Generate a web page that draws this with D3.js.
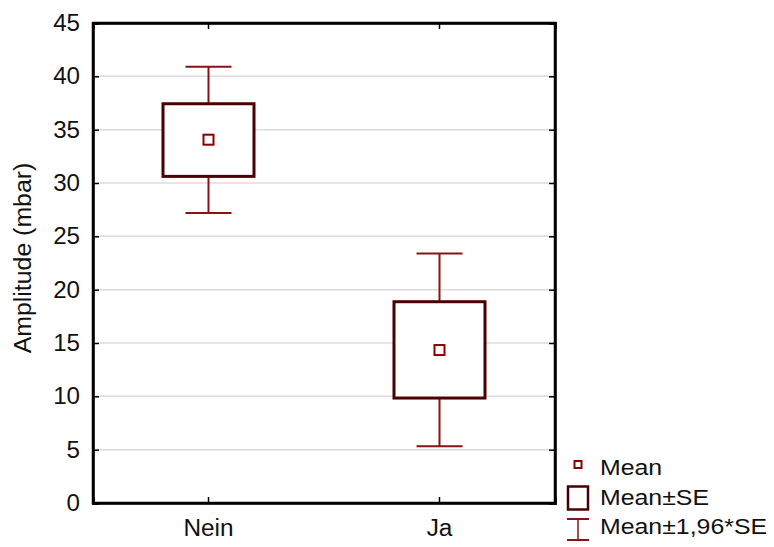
<!DOCTYPE html>
<html>
<head>
<meta charset="utf-8">
<script src="https://cdn.jsdelivr.net/npm/d3@7"></script>
<style>
  html, body { margin: 0; padding: 0; background: #fff; }
  svg { display: block; font-family: "Liberation Sans", Arial, sans-serif; }
</style>
</head>
<body>
<svg id="chart" width="774" height="547"></svg>
<script>
// Groups and their summary statistics (Amplitude, mbar)
const categories = ["Nein", "Ja"];
const means      = [34.06, 14.34];
const seLow      = [30.62, 9.84];
const seHigh     = [37.43, 18.87];
const ciLow      = [27.19, 5.31];
const ciHigh     = [40.90, 23.40];

const yTicks = [0, 5, 10, 15, 20, 25, 30, 35, 40, 45];
const legendLabels = ["Mean", "Mean\u00B1SE", "Mean\u00B11,96*SE"];

const boxColor = "#4a0000";
const barColor = "#8b1212";
const meanColor = "#8b0000";

const svg = d3.select("#chart");
const margin = { left: 93, top: 23, right: 555, bottom: 503 };

const x = d3.scaleBand().domain(categories).range([margin.left, margin.right]);
const y = d3.scaleLinear().domain([0, 45]).range([margin.bottom, margin.top]);

// widen glyphs slightly along the text direction
function stretch(sel, k) {
  sel.each(function () {
    const w = this.getComputedTextLength();
    d3.select(this).attr("textLength", w * k).attr("lengthAdjust", "spacingAndGlyphs");
  });
}

// horizontal grid
svg.append("g").selectAll("line")
  .data(yTicks.filter(t => t > 0 && t < 45))
  .join("line")
  .attr("x1", margin.left).attr("x2", margin.right)
  .attr("y1", d => y(d)).attr("y2", d => y(d))
  .attr("stroke", "#dcdcdc").attr("stroke-width", 1.5);

// axes with inward ticks
const fontSize = 23;
const yAxisL = svg.append("g").attr("transform", `translate(${margin.left},0)`)
  .call(d3.axisLeft(y).tickValues(yTicks).tickSize(-6).tickPadding(13));
const yAxisR = svg.append("g").attr("transform", `translate(${margin.right},0)`)
  .call(d3.axisRight(y).tickValues(yTicks).tickSize(-6).tickFormat(""));
const xAxisB = svg.append("g").attr("transform", `translate(0,${margin.bottom})`)
  .call(d3.axisBottom(x).tickSize(-6).tickPadding(17));
const xAxisT = svg.append("g").attr("transform", `translate(0,${margin.top})`)
  .call(d3.axisTop(x).tickSize(-6).tickFormat(""));

[yAxisL, yAxisR, xAxisB, xAxisT].forEach(g => {
  g.select(".domain").attr("stroke", "#000").attr("stroke-width", 2.5);
  g.selectAll(".tick line").attr("stroke", "#000").attr("stroke-width", 1.5);
  g.selectAll(".tick text").attr("fill", "#111")
    .style("font-size", fontSize + "px").style("font-family", "'Liberation Sans', Arial, sans-serif");
});
xAxisB.selectAll(".tick text").attr("dy", "0.71em");
stretch(yAxisL.selectAll(".tick text"), 1.05);
stretch(xAxisB.selectAll(".tick text"), 1.06);

// frame
svg.append("rect")
  .attr("x", margin.left).attr("y", margin.top)
  .attr("width", margin.right - margin.left).attr("height", margin.bottom - margin.top)
  .attr("fill", "none").attr("stroke", "#000").attr("stroke-width", 2.5);

// y title
const yTitle = svg.append("text")
  .attr("transform", `translate(31,258) rotate(-90)`)
  .attr("text-anchor", "middle")
  .style("font-size", "23px").attr("fill", "#111")
  .text("Amplitude (mbar)");
stretch(yTitle, 1.08);

// box-and-whisker groups
const data = categories.map((c, i) => ({
  c, mean: means[i], seLo: seLow[i], seHi: seHigh[i], ciLo: ciLow[i], ciHi: ciHigh[i]
}));
const boxW = 91, capW = 46, meanS = 10;
const g = svg.append("g").selectAll("g").data(data).join("g")
  .attr("transform", d => `translate(${x(d.c) + x.bandwidth() / 2},0)`);

g.append("line").attr("x1", 0).attr("x2", 0)
  .attr("y1", d => y(d.ciHi)).attr("y2", d => y(d.seHi))
  .attr("stroke", barColor).attr("stroke-width", 2);
g.append("line").attr("x1", 0).attr("x2", 0)
  .attr("y1", d => y(d.seLo)).attr("y2", d => y(d.ciLo))
  .attr("stroke", barColor).attr("stroke-width", 2);
g.append("line").attr("x1", -capW / 2).attr("x2", capW / 2)
  .attr("y1", d => y(d.ciHi)).attr("y2", d => y(d.ciHi))
  .attr("stroke", barColor).attr("stroke-width", 2);
g.append("line").attr("x1", -capW / 2).attr("x2", capW / 2)
  .attr("y1", d => y(d.ciLo)).attr("y2", d => y(d.ciLo))
  .attr("stroke", barColor).attr("stroke-width", 2);
g.append("rect")
  .attr("x", -boxW / 2).attr("width", boxW)
  .attr("y", d => y(d.seHi)).attr("height", d => y(d.seLo) - y(d.seHi))
  .attr("fill", "#fff").attr("stroke", boxColor).attr("stroke-width", 3);
g.append("rect")
  .attr("x", -meanS / 2).attr("width", meanS)
  .attr("y", d => y(d.mean) - meanS / 2).attr("height", meanS)
  .attr("fill", "#fff").attr("stroke", meanColor).attr("stroke-width", 2);

// legend
const lg = svg.append("g");
const lx = 578, ys = [475, 505, 534];
lg.append("rect").attr("x", lx - 3.5).attr("y", 461).attr("width", 7).attr("height", 7)
  .attr("fill", "#fff").attr("stroke", meanColor).attr("stroke-width", 2);
lg.append("rect").attr("x", lx - 10).attr("y", 486.5).attr("width", 20).attr("height", 23)
  .attr("fill", "#fff").attr("stroke", boxColor).attr("stroke-width", 2.5);
lg.append("line").attr("x1", lx).attr("x2", lx).attr("y1", 519).attr("y2", 540)
  .attr("stroke", barColor).attr("stroke-width", 1.5);
lg.append("line").attr("x1", lx - 11).attr("x2", lx + 11).attr("y1", 519).attr("y2", 519)
  .attr("stroke", barColor).attr("stroke-width", 2);
lg.append("line").attr("x1", lx - 11).attr("x2", lx + 11).attr("y1", 540).attr("y2", 540)
  .attr("stroke", barColor).attr("stroke-width", 2);
const lt = lg.selectAll("text").data(legendLabels).join("text")
  .attr("x", 600).attr("y", (d, i) => ys[i])
  .style("font-size", "22px").attr("fill", "#111")
  .text(d => d);
stretch(lt, 1.13);
</script>
</body>
</html>
